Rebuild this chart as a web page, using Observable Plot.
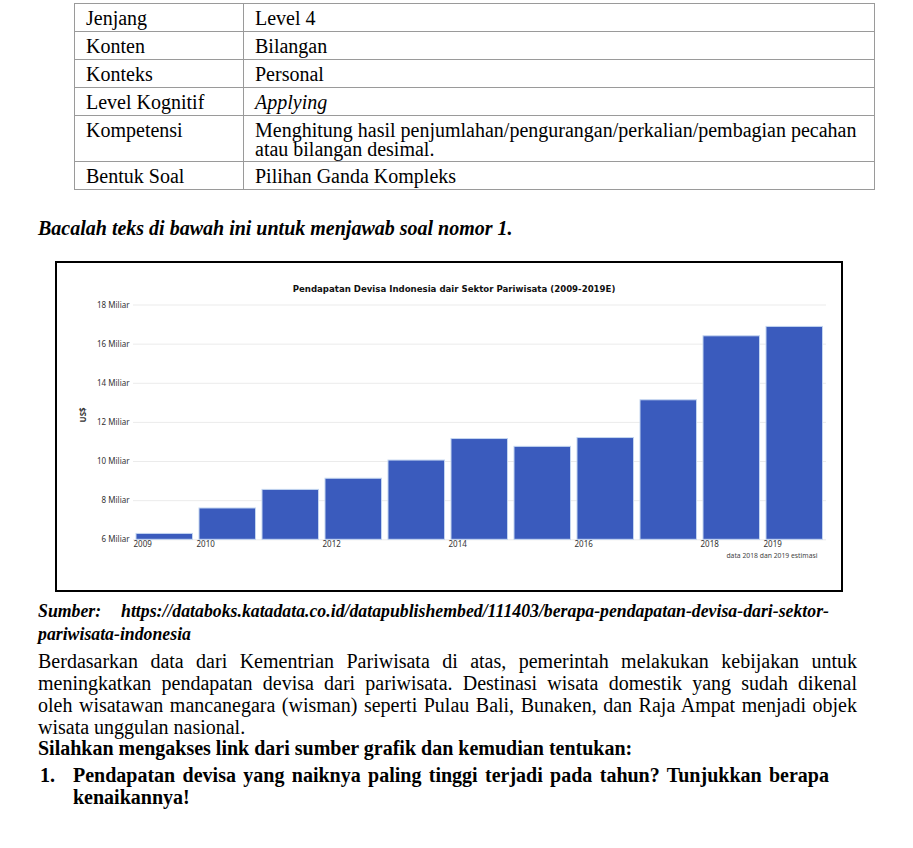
<!DOCTYPE html>
<html><head><meta charset="utf-8">
<script src="https://cdn.jsdelivr.net/npm/d3@7"></script>
<script src="https://cdn.jsdelivr.net/npm/@observablehq/plot@0.6"></script>
<style>
html,body{margin:0;padding:0;background:#fff;}
body{width:913px;height:848px;position:relative;overflow:hidden;font-family:"Liberation Serif","Times New Roman",serif;font-size:20px;color:#000;}
table.meta{position:absolute;left:74px;top:3px;width:801px;border-collapse:collapse;}
table.meta td{border:1px solid #9a9a9a;padding:5px 11px 0 11px;vertical-align:top;line-height:19px;}
table.meta td.c1{width:146px;}
.line{position:absolute;line-height:22px;white-space:nowrap;}
.just{text-align:justify;text-align-last:justify;white-space:normal;}
.bi{font-weight:bold;font-style:italic;}
.b{font-weight:bold;}
.fit{transform-origin:0 50%;font-size:19px;}
#chartbox{position:absolute;left:55px;top:261px;width:784px;height:327px;border:2px solid #000;}
#chart svg{display:block;}
</style>
</head><body>
<table class="meta">
<tr style="height:28px"><td class="c1">Jenjang</td><td>Level 4</td></tr>
<tr style="height:28px"><td class="c1">Konten</td><td>Bilangan</td></tr>
<tr style="height:28px"><td class="c1">Konteks</td><td>Personal</td></tr>
<tr style="height:28px"><td class="c1">Level Kognitif</td><td><i>Applying</i></td></tr>
<tr style="height:46px"><td class="c1">Kompetensi</td><td>Menghitung hasil penjumlahan/pengurangan/perkalian/pembagian pecahan atau bilangan desimal.</td></tr>
<tr style="height:28px"><td class="c1">Bentuk Soal</td><td>Pilihan Ganda Kompleks</td></tr>
</table>

<div class="line bi" style="left:38px;top:217px;">Bacalah teks di bawah ini untuk menjawab soal nomor 1.</div>

<div id="chartbox"><div id="chart"></div></div>

<div class="line bi fit" id="src0" style="left:38px;top:600px;">Sumber:</div>
<div class="line bi fit" id="src1" style="left:121px;top:600px;">https://databoks.katadata.co.id/datapublishembed/111403/berapa-pendapatan-devisa-dari-sektor-</div>
<div class="line bi fit" id="src2" style="left:38px;top:623px;">pariwisata-indonesia</div>

<div class="line just" style="left:38px;top:650px;width:819px;">Berdasarkan data dari Kementrian Pariwisata di atas, pemerintah melakukan kebijakan untuk</div>
<div class="line just" style="left:38px;top:672px;width:819px;">meningkatkan pendapatan devisa dari pariwisata. Destinasi wisata domestik yang sudah dikenal</div>
<div class="line just" style="left:38px;top:694px;width:819px;">oleh wisatawan mancanegara (wisman) seperti Pulau Bali, Bunaken, dan Raja Ampat menjadi objek</div>
<div class="line" style="left:38px;top:716px;">wisata unggulan nasional.</div>
<div class="line b" style="left:38px;top:737px;">Silahkan mengakses link dari sumber grafik dan kemudian tentukan:</div>
<div class="line b" style="left:40px;top:764px;">1.</div>
<div class="line b just" style="left:73px;top:764px;width:756px;">Pendapatan devisa yang naiknya paling tinggi terjadi pada tahun? Tunjukkan berapa</div>
<div class="line b" style="left:73px;top:786px;">kenaikannya!</div>

<script>
// ---- chart data ----
const years = [2009, 2010, 2011, 2012, 2013, 2014, 2015, 2016, 2017, 2018, 2019];
const values = [6.3, 7.6, 8.55, 9.12, 10.05, 11.15, 10.75, 11.2, 13.13, 16.4, 16.88];
const yTicks = [6, 8, 10, 12, 14, 16, 18];
const xTicks = [2009, 2010, 2012, 2014, 2016, 2018, 2019];
const chartTitle = "Pendapatan Devisa Indonesia dair Sektor Pariwisata (2009-2019E)";
const yLabel = "US$";
const unitSuffix = " Miliar";
const note = "data 2018 dan 2019 estimasi";

const data = years.map((year, i) => ({year, value: values[i]}));

const chart = Plot.plot({
  width: 784,
  height: 327,
  marginLeft: 76,
  marginRight: 15,
  marginTop: 41.5,
  marginBottom: 50.7,
  x: {domain: [years[0], years[years.length - 1] + 1]},
  y: {domain: [yTicks[0], yTicks[yTicks.length - 1]]},
  style: {fontFamily: "'Noto Sans', 'Open Sans', sans-serif", fontSize: "8px", color: "#333", background: "transparent"},
  marks: [
    Plot.gridY(yTicks, {stroke: "#ebebeb", strokeOpacity: 1}),
    Plot.rectY(data, {
      x1: "year", x2: d => d.year + 1, y1: yTicks[0], y2: "value",
      fill: "#3a5bbd", stroke: "#c3d5f0", strokeWidth: 1, insetLeft: 3, insetRight: 3.5
    }),
    Plot.axisY(yTicks, {tickSize: 0, tickPadding: 4, tickFormat: d => `${d}${unitSuffix}`, label: null}),
    Plot.axisX(xTicks, {tickSize: 0, tickPadding: 2, tickFormat: d => String(d), textAnchor: "start", label: null}),
    Plot.text([yLabel], {frameAnchor: "left", dx: -50, rotate: -90, fontWeight: "bold", fontSize: 8, fill: "#333"}),
    Plot.text([chartTitle], {frameAnchor: "top", dx: -26, dy: -19.5, fontWeight: "bold", fontSize: 8.6, fontFamily: "DejaVu Sans", fill: "#111"}),
    Plot.text([note], {frameAnchor: "bottom-right", dx: -9, dy: 18, textAnchor: "end", fontSize: 6.8, fill: "#444"})
  ]
});
document.getElementById("chart").appendChild(chart);

// fit the source line to the same span as in the document (layout only)
const src1 = document.getElementById("src1");
const s = 708 / src1.getBoundingClientRect().width;
for (const id of ["src0", "src1", "src2"]) {
  document.getElementById(id).style.transform = `scaleX(${s})`;
}
</script>
</body></html>
